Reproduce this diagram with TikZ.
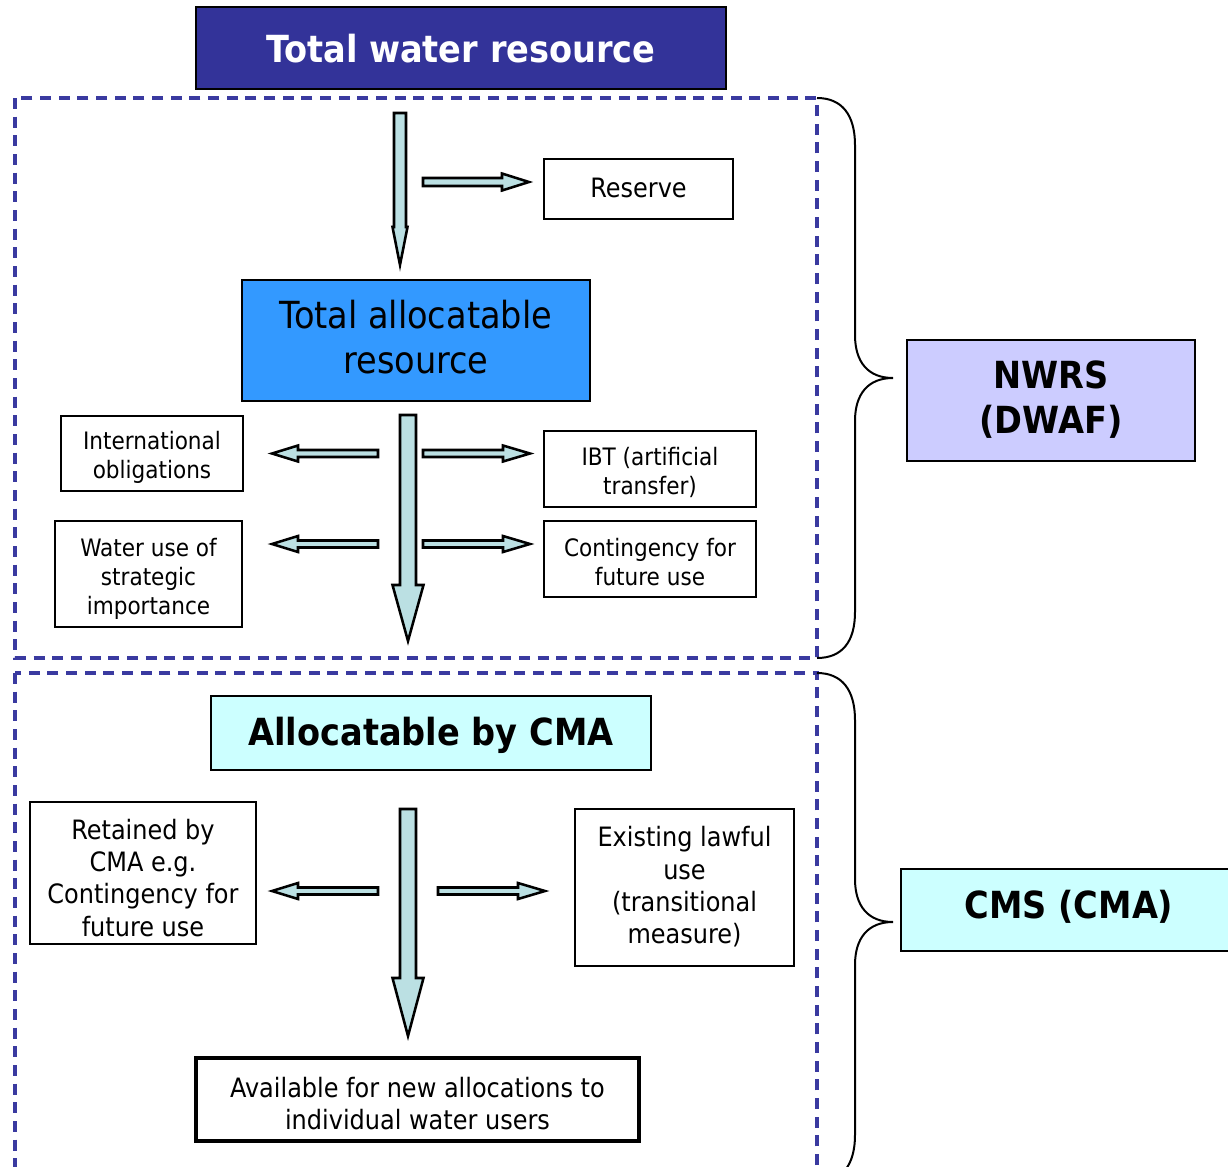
\documentclass[tikz,border=0pt]{standalone}
\usepackage{fontspec}
\setmainfont{DejaVu Sans Condensed}

\definecolor{deepblue}{RGB}{51,51,153}
\definecolor{frameblue}{RGB}{58,58,160}
\definecolor{midblue}{RGB}{51,153,255}
\definecolor{lilac}{RGB}{204,204,255}
\definecolor{palecyan}{RGB}{204,255,255}
\definecolor{arrowteal}{RGB}{187,224,227}

% font sizes; the strut splits each line 83/17 around the baseline
\newcommand\linestrut{\setbox\strutbox\hbox{\vrule height .83\baselineskip depth .17\baselineskip width 0pt}}
\newcommand\fntSmall{\fontsize{18pt}{21.75pt}\selectfont\linestrut}
\newcommand\fntMid{\fontsize{20pt}{24.2pt}\selectfont\linestrut}
\newcommand\fntBig{\fontsize{28pt}{33.8pt}\selectfont\linestrut}

% centred block of lines, optionally raised without changing its size
\newcommand\boxtext[2][0pt]{\raisebox{#1}[\height][\depth]{\begin{tabular}{@{}c@{}}#2\end{tabular}}}

% block arrows: horizontal (y, tail x, head base x, tip x, shaft half, head half)
\newcommand\hblk[6]{\draw[blockarrow] (#2,{#1-#5}) -- (#3,{#1-#5}) -- (#3,{#1-#6}) -- (#4,#1) -- (#3,{#1+#6}) -- (#3,{#1+#5}) -- (#2,{#1+#5}) -- cycle;}
% vertical (x, tail y, head base y, tip y, shaft half, head half)
\newcommand\vblk[6]{\draw[blockarrow] ({#1-#5},#2) -- ({#1+#5},#2) -- ({#1+#5},#3) -- ({#1+#6},#3) -- (#1,#4) -- ({#1-#6},#3) -- ({#1-#5},#3) -- cycle;}

\tikzset{
  box/.style={draw=black, line width=1.5pt, inner sep=0pt, font=\fntSmall},
  midbox/.style={box, font=\fntMid},
  bigbox/.style={box, font=\fntBig},
  blockarrow/.style={draw=black, line width=1.9pt, fill=arrowteal, line join=miter},
  dashbox/.style={draw=frameblue, line width=2.3pt, dash pattern=on 8.25pt off 5.75pt},
  bracepath/.style={draw=black, line width=1.5pt}
}

\begin{document}
\begin{tikzpicture}[x=0.75pt, y=-0.75pt]
\useasboundingbox (0,0) rectangle (1228,1167);
\clip (0,0) rectangle (1228,1167);

% dashed frames of the two management levels
\draw[dashbox] (15,98) rectangle (817,658);
\draw[dashbox] (15,673) rectangle (817,1190);

% braces towards the responsible bodies
\draw[bracepath] (817,98) .. controls (842,98) and (855,115) .. (855,145) -- (855,335)
  .. controls (855,362) and (868,378) .. (893,378)
  .. controls (868,378) and (855,394) .. (855,421) -- (855,612)
  .. controls (855,642) and (842,658) .. (817,658);
\draw[bracepath] (817,673) .. controls (842,673) and (855,690) .. (855,720) -- (855,879)
  .. controls (855,906) and (868,922) .. (893,922)
  .. controls (868,922) and (855,938) .. (855,965) -- (855,1135)
  .. controls (855,1165) and (842,1182) .. (817,1182);

% boxes
\node[bigbox, fill=deepblue, text=white, font=\fntBig\bfseries, minimum width=397.5pt, minimum height=61.5pt] (total) at (461,48) {\boxtext{Total water resource}};
\node[midbox, minimum width=141.75pt, minimum height=45pt] (reserve) at (638.5,188.5) {\boxtext[1.5pt]{Reserve}};
\node[bigbox, fill=midblue, minimum width=261pt, minimum height=90.75pt] (alloc) at (416,340.5) {\boxtext[3.5pt]{Total allocatable\\resource}};
\node[box, minimum width=136.5pt, minimum height=56.25pt] (intl) at (152,453.5) {\boxtext[-1pt]{International\\obligations}};
\node[box, minimum width=159pt, minimum height=57pt] (ibt) at (650,469) {\boxtext[-1pt]{IBT (artificial\\transfer)}};
\node[box, minimum width=140.25pt, minimum height=79.5pt] (strategic) at (148.5,574) {\boxtext[-1.5pt]{Water use of\\strategic\\importance}};
\node[box, minimum width=159pt, minimum height=57pt] (contingency) at (650,559) {\boxtext[-1.5pt]{Contingency for\\future use}};
\node[bigbox, fill=lilac, font=\fntBig\bfseries, minimum width=216pt, minimum height=90.75pt] (nwrs) at (1051,400.5) {\boxtext[3pt]{NWRS\\(DWAF)}};
\node[bigbox, fill=palecyan, font=\fntBig\bfseries, minimum width=330pt, minimum height=55.5pt] (cma) at (431,733) {\boxtext[2pt]{Allocatable by CMA}};
\node[bigbox, fill=palecyan, font=\fntBig\bfseries, minimum width=252pt, minimum height=61.5pt] (cms) at (1069,910) {\boxtext[5pt]{CMS (CMA)}};
\node[midbox, minimum width=169.5pt, minimum height=106.5pt] (retained) at (143,873) {\boxtext[-3pt]{Retained by\\CMA e.g.\\Contingency for\\future use}};
\node[midbox, minimum width=164.25pt, minimum height=117.75pt] (existing) at (684.5,887.5) {\boxtext[2.25pt]{Existing lawful\\use\\(transitional\\measure)}};
\node[midbox, line width=2.4pt, minimum width=332.25pt, minimum height=62.25pt] (available) at (417.5,1099.5) {\boxtext[-2.25pt]{Available for new allocations to\\individual water users}};

% flow arrows, upper level
\vblk{400}{113}{227}{265}{6}{7.5}
\hblk{182}{423}{502}{529}{4}{8.5}
\vblk{408}{415}{585}{641}{8}{15.5}
\hblk{453.5}{378}{298}{272}{3.5}{8}
\hblk{453.5}{423}{503}{530}{3.5}{8}
\hblk{544}{378}{298}{272}{3.5}{8}
\hblk{544}{423}{503}{530}{3.5}{8}

% flow arrows, lower level
\vblk{408}{809}{978}{1036}{8}{15.5}
\hblk{891}{378}{298}{272}{3.5}{8}
\hblk{891}{438}{518}{545}{3.5}{8}
\end{tikzpicture}
\end{document}
